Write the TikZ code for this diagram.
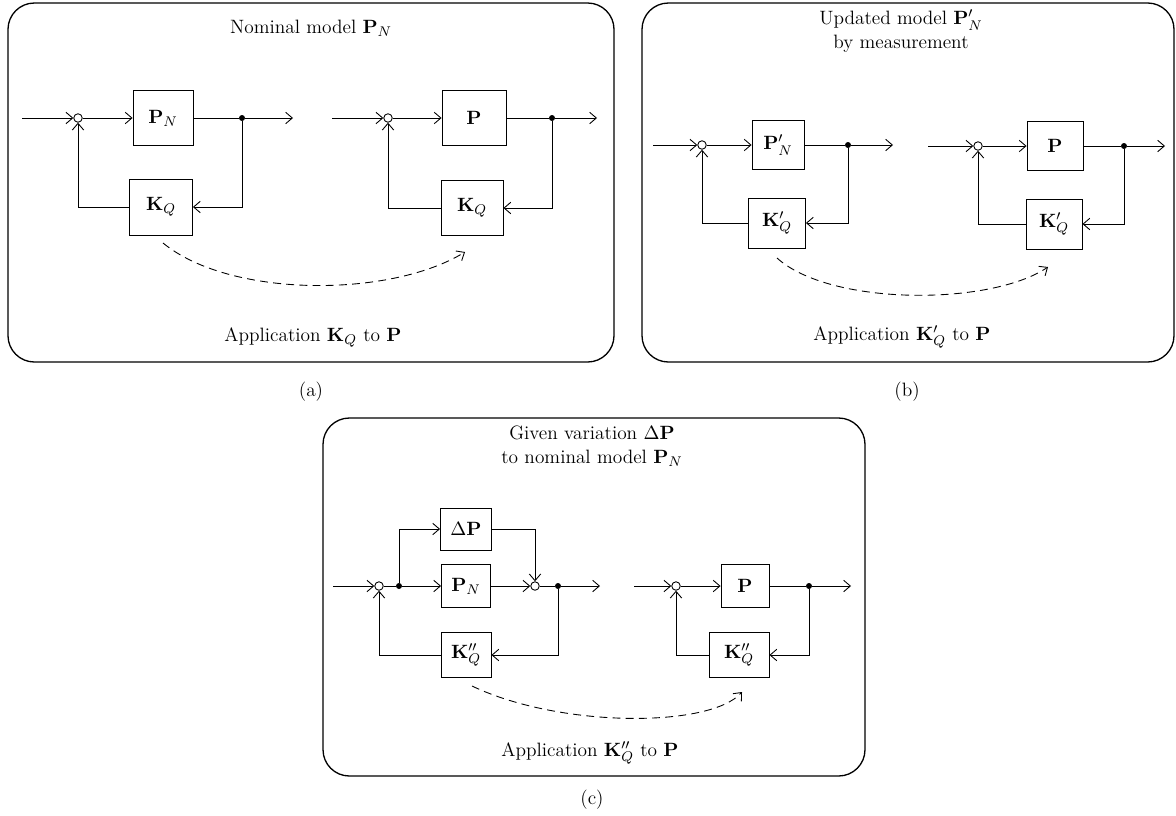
\documentclass[tikz,border=0pt]{standalone}
\usetikzlibrary{arrows.meta}
\begin{document}
\begin{tikzpicture}[x=0.02cm,y=-0.02cm,
  font=\fontsize{11}{13.5}\selectfont,
  >={Straight Barb[length=3.8pt,width=6.5pt]},
  panel/.style={draw, line width=0.75pt, rounded corners=15pt},
  blk/.style={draw, line width=0.5pt, inner sep=0pt},
  sumc/.style={circle, draw, fill=white, line width=0.5pt, inner sep=0pt, minimum size=0.17cm},
  dotn/.style={circle, fill=black, inner sep=0pt, minimum size=0.12cm},
  sig/.style={line width=0.5pt, ->},
  wire/.style={line width=0.5pt},
  dsh/.style={line width=0.5pt, ->, dash pattern=on 4.5pt off 3pt}
]
\useasboundingbox (0,0) rectangle (1176,815);

%================ Panel (a)
\draw[panel] (8,3) rectangle (614,362);
\node (atitle) at (311,28) {Nominal model $\mathbf{P}_N$};
\node (aapp) at (313,337) {Application $\mathbf{K}_Q$ to $\mathbf{P}$};
\node (alab) at (311,392) {(a)};

% loop 1
\coordinate (a1in) at (22,118);
\node[sumc] (a1s) at (78,118) {};
\node[blk, minimum width=1.2cm, minimum height=1.1cm] (a1P) at (163,118) {$\mathbf{P}_N$};
\node[dotn] (a1d) at (242,118) {};
\coordinate (a1out) at (293,118);
\node[blk, minimum width=1.26cm, minimum height=1.12cm] (a1K) at (161,207) {$\mathbf{K}_Q$};
\draw[sig] (a1in) -- (a1s);
\draw[sig] (a1s) -- (a1P);
\draw[wire] (a1P) -- (a1d);
\draw[sig] (a1d) -- (a1out);
\draw[sig] (a1d) |- (a1K);
\draw[sig] (a1K) -| (a1s);

% loop 2
\coordinate (a2in) at (332,118);
\node[sumc] (a2s) at (388,118) {};
\node[blk, minimum width=1.28cm, minimum height=1.1cm] (a2P) at (474,118) {$\mathbf{P}$};
\node[dotn] (a2d) at (552,118) {};
\coordinate (a2out) at (597,118);
\node[blk, minimum width=1.24cm, minimum height=1.1cm] (a2K) at (472,208) {$\mathbf{K}_Q$};
\draw[sig] (a2in) -- (a2s);
\draw[sig] (a2s) -- (a2P);
\draw[wire] (a2P) -- (a2d);
\draw[sig] (a2d) -- (a2out);
\draw[sig] (a2d) |- (a2K);
\draw[sig] (a2K) -| (a2s);

\coordinate (aarcS) at (163,243);
\coordinate (aarcE) at (465,252);
\draw[dsh] (aarcS) .. controls (230,298) and (390,298) .. (aarcE);

%================ Panel (b)
\draw[panel] (642,3) rectangle (1174,362);
\node[align=center] (btitle) at (901,31) {Updated model $\mathbf{P}'_N$\\by measurement};
\node (bapp) at (902,337) {Application $\mathbf{K}'_Q$ to $\mathbf{P}$};
\node (blab) at (907,392) {(b)};

% loop 1
\coordinate (b1in) at (653,145);
\node[sumc] (b1s) at (702,145) {};
\node[blk, minimum width=1.04cm, minimum height=0.98cm] (b1P) at (778,145) {$\mathbf{P}'_N$};
\node[dotn] (b1d) at (848,145) {};
\coordinate (b1out) at (893,145);
\node[blk, minimum width=1.14cm, minimum height=1.0cm] (b1K) at (777,223) {$\mathbf{K}'_Q$};
\draw[sig] (b1in) -- (b1s);
\draw[sig] (b1s) -- (b1P);
\draw[wire] (b1P) -- (b1d);
\draw[sig] (b1d) -- (b1out);
\draw[sig] (b1d) |- (b1K);
\draw[sig] (b1K) -| (b1s);

% loop 2
\coordinate (b2in) at (928,146);
\node[sumc] (b2s) at (978,146) {};
\node[blk, minimum width=1.12cm, minimum height=0.98cm] (b2P) at (1055,146) {$\mathbf{P}$};
\node[dotn] (b2d) at (1124,146) {};
\coordinate (b2out) at (1165,146);
\node[blk, minimum width=1.12cm, minimum height=1.0cm] (b2K) at (1054,224) {$\mathbf{K}'_Q$};
\draw[sig] (b2in) -- (b2s);
\draw[sig] (b2s) -- (b2P);
\draw[wire] (b2P) -- (b2d);
\draw[sig] (b2d) -- (b2out);
\draw[sig] (b2d) |- (b2K);
\draw[sig] (b2K) -| (b2s);

\coordinate (barcS) at (777,258);
\coordinate (barcE) at (1048,267);
\draw[dsh] (barcS) .. controls (830,306) and (990,306) .. (barcE);

%================ Panel (c)
\draw[panel] (323,418) rectangle (865,776);
\node[align=center] (ctitle) at (592,446) {Given variation $\Delta\mathbf{P}$\\to nominal model $\mathbf{P}_N$};
\node (capp) at (590,753) {Application $\mathbf{K}''_Q$ to $\mathbf{P}$};
\node (clab) at (592,800) {(c)};

% loop 1
\coordinate (c1in) at (333,586);
\node[sumc] (c1s) at (379,586) {};
\node[dotn] (c1d) at (399,586) {};
\node[blk, minimum width=1.02cm, minimum height=0.84cm] (c1D) at (466,529) {$\Delta\mathbf{P}$};
\node[blk, minimum width=0.98cm, minimum height=0.86cm] (c1P) at (466,586) {$\mathbf{P}_N$};
\node[sumc] (c1s2) at (535,586) {};
\node[dotn] (c1d2) at (558,586) {};
\coordinate (c1out) at (600,586);
\node[blk, minimum width=1.0cm, minimum height=0.9cm] (c1K) at (466,655) {$\mathbf{K}''_Q$};
\draw[sig] (c1in) -- (c1s);
\draw[wire] (c1s) -- (c1d);
\draw[sig] (c1d) -- (c1P);
\draw[sig] (c1d) |- (c1D);
\draw[sig] (c1D) -| (c1s2);
\draw[sig] (c1P) -- (c1s2);
\draw[wire] (c1s2) -- (c1d2);
\draw[sig] (c1d2) -- (c1out);
\draw[sig] (c1d2) |- (c1K);
\draw[sig] (c1K) -| (c1s);

% loop 2
\coordinate (c2in) at (634,586);
\node[sumc] (c2s) at (676,586) {};
\node[blk, minimum width=0.96cm, minimum height=0.86cm] (c2P) at (745,586) {$\mathbf{P}$};
\node[dotn] (c2d) at (809,586) {};
\coordinate (c2out) at (851,586);
\node[blk, minimum width=1.2cm, minimum height=0.9cm] (c2K) at (739,655) {$\mathbf{K}''_Q$};
\draw[sig] (c2in) -- (c2s);
\draw[sig] (c2s) -- (c2P);
\draw[wire] (c2P) -- (c2d);
\draw[sig] (c2d) -- (c2out);
\draw[sig] (c2d) |- (c2K);
\draw[sig] (c2K) -| (c2s);

\coordinate (carcS) at (472,686);
\coordinate (carcE) at (742,692);
\draw[dsh] (carcS) .. controls (560,728) and (710,728) .. (carcE);
\end{tikzpicture}
\end{document}
